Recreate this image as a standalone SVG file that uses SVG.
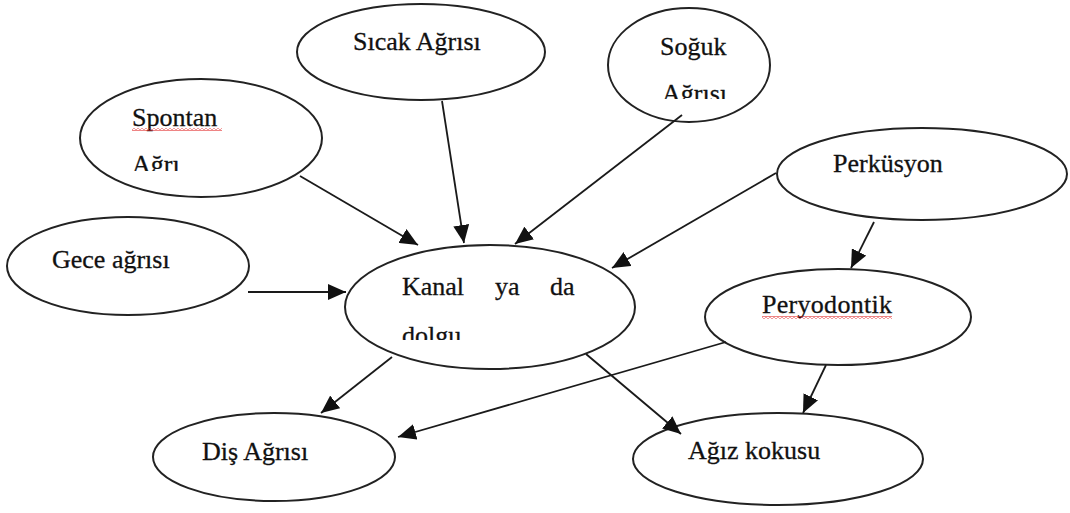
<svg xmlns="http://www.w3.org/2000/svg" width="1070" height="513" viewBox="0 0 1070 513">
  <style>
    .node ellipse { fill: #ffffff; stroke: #222222; stroke-width: 2; }
    .node text { font-family: "Liberation Serif", "Times New Roman", serif; font-size: 26px; fill: #111111; stroke: #111111; stroke-width: 0.3; }
    .edges line { stroke: #1a1a1a; stroke-width: 1.8; marker-end: url(#arrow); }
    .squiggle { fill: url(#wave); }
  </style>
  <defs>
    <marker id="arrow" markerUnits="userSpaceOnUse" markerWidth="20" markerHeight="16" refX="18" refY="8" orient="auto">
      <path d="M0,0 L18,8 L0,16 z" fill="#111111"/>
    </marker>
    <!-- red spell-check wave -->
    <pattern id="wave" patternUnits="userSpaceOnUse" width="4" height="3">
      <polyline points="0,0.6 2,2.4 4,0.6" fill="none" stroke="#e02020" stroke-width="1"/>
    </pattern>
    <clipPath id="clipSpontan"><rect x="120" y="140" width="120" height="31"/></clipPath>
    <clipPath id="clipSoguk"><rect x="650" y="70" width="100" height="29"/></clipPath>
    <clipPath id="clipKanal"><rect x="390" y="310" width="120" height="30"/></clipPath>
  </defs>

  <rect width="1070" height="513" fill="#ffffff"/>

  <g id="node-sicak" class="node">
    <ellipse cx="421" cy="52" rx="124" ry="48"/>
    <text x="353" y="50">Sıcak Ağrısı</text>
  </g>

  <g id="node-soguk" class="node">
    <ellipse cx="689" cy="65" rx="81" ry="57"/>
    <text x="660" y="55">Soğuk</text>
    <text x="662" y="102" clip-path="url(#clipSoguk)">Ağrısı</text>
  </g>

  <g id="node-spontan" class="node">
    <ellipse cx="201" cy="138" rx="121" ry="59"/>
    <text x="132" y="126">Spontan</text>
    <rect class="squiggle" x="132" y="128" width="90" height="3"/>
    <text x="132" y="173" clip-path="url(#clipSpontan)">Ağrı</text>
  </g>

  <g id="node-gece" class="node">
    <ellipse cx="128" cy="266" rx="121" ry="49"/>
    <text x="52" y="268">Gece ağrısı</text>
  </g>

  <g id="node-kanal" class="node">
    <ellipse cx="490" cy="307" rx="145" ry="62"/>
    <text x="402" y="295">Kanal</text>
    <text x="495" y="295">ya</text>
    <text x="550" y="295">da</text>
    <text x="402" y="344" clip-path="url(#clipKanal)">dolgu</text>
  </g>

  <g id="node-perkusyon" class="node">
    <ellipse cx="922" cy="174" rx="145" ry="46"/>
    <text x="833" y="172">Perküsyon</text>
  </g>

  <g id="node-peryodontik" class="node">
    <ellipse cx="838" cy="317" rx="133" ry="48"/>
    <text x="762" y="313" textLength="130" lengthAdjust="spacing">Peryodontik</text>
    <rect class="squiggle" x="762" y="316" width="130" height="3"/>
  </g>

  <g id="node-dis" class="node">
    <ellipse cx="274" cy="457" rx="121" ry="44"/>
    <text x="202" y="460">Diş Ağrısı</text>
  </g>

  <g id="node-agiz" class="node">
    <ellipse cx="778" cy="459" rx="145" ry="46"/>
    <text x="688" y="459">Ağız kokusu</text>
  </g>

  <g id="connectors" class="edges">
    <line x1="300" y1="176" x2="418" y2="245"/>
    <line x1="442" y1="101" x2="464" y2="243"/>
    <line x1="682" y1="115" x2="515" y2="244"/>
    <line x1="776" y1="173" x2="612" y2="268"/>
    <line x1="248" y1="292" x2="346" y2="292"/>
    <line x1="874" y1="222" x2="851" y2="268"/>
    <line x1="392" y1="357" x2="321" y2="413"/>
    <line x1="726" y1="342" x2="398" y2="437"/>
    <line x1="586" y1="354" x2="681" y2="434"/>
    <line x1="826" y1="365" x2="803" y2="413"/>
  </g>
</svg>
